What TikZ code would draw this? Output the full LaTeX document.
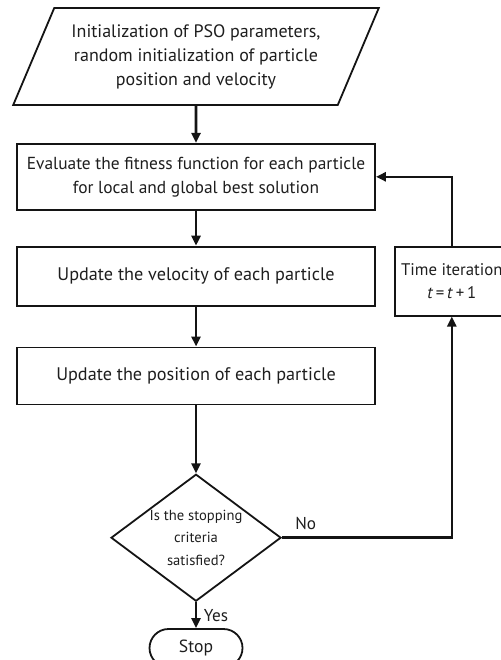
\documentclass[tikz,border=0pt]{standalone}
\usepackage{fontspec}
\setmainfont{PT Sans}
\usetikzlibrary{shapes.geometric, arrows.meta, positioning}
\definecolor{lineColor}{RGB}{20, 20, 20}
\definecolor{textColor}{RGB}{30, 30, 30}
\tikzset{
    node distance=17.5pt,
    font=\fontsize{8.8}{12}\selectfont,
    % --- basic block ---
    baseBlock/.style={
        draw=lineColor, line width=0.9pt, align=center, text=textColor
    },
    % --- block styles ---
    % input / output
    styleInput/.style={
        baseBlock, trapezium, trapezium left angle=64, trapezium right angle=116,
        trapezium stretches=true, minimum width=183pt, minimum height=48.5pt,
        font=\fontsize{9}{12}\selectfont
    },
    % process step
    styleProc/.style={
        baseBlock, rectangle, minimum width=179pt, minimum height=29pt,
        font=\fontsize{9.1}{12}\selectfont
    },
    % side step
    styleSide/.style={
        baseBlock, rectangle, minimum width=57pt, minimum height=34.5pt, inner sep=1pt,
        font=\fontsize{8.4}{11.5}\selectfont
    },
    % decision
    styleDecision/.style={
        baseBlock, diamond, aspect=1.34, inner sep=-3pt,
        minimum width=85pt, minimum height=63.5pt,
        font=\fontsize{7.3}{11.2}\selectfont
    },
    % terminator
    styleTerm/.style={
        baseBlock, rectangle, rounded corners=9.5pt,
        minimum width=46.5pt, minimum height=19pt
    },
    % --- connectors ---
    conn/.style={
        draw=lineColor, line width=1.3pt,
        -{Triangle[length=5pt, width=4.5pt]}
    },
    edgeLabel/.style={text=textColor, font=\fontsize{8.6}{11}\selectfont}
}

\begin{document}
\begin{tikzpicture}
	\useasboundingbox (0,0) rectangle (250.5pt,-330pt);

	% =========================================================
	% main column
	% =========================================================
	\node [styleInput] (init) at (98pt,-28.25pt) {Initialization of PSO parameters,\\random initialization of particle\\position and velocity};
	\node [styleProc, below=18.5pt of init, minimum height=33pt, font=\fontsize{8.7}{12}\selectfont] (eval) {Evaluate the fitness function for each particle\\for local and global best solution};
	\node [styleProc, below=17.5pt of eval, minimum height=29.5pt] (vel) {Update the velocity of each particle};
	\node [styleProc, below=20pt of vel, minimum height=28.5pt] (pos) {Update the position of each particle};
	\node [styleDecision, below=34pt of pos] (check) {Is the stopping\\criteria\\satisfied?};
	\node [styleTerm, below=13pt of check] (stop) {Stop};

	% =========================================================
	% loop back
	% =========================================================
	\node [styleSide, right=9pt of vel.north east, anchor=north west] (time) {Time iteration\\\textit{t}\,=\,\textit{t}\,+\,1};

	% =========================================================
	% connectors
	% =========================================================
	\draw [conn] (init) -- (eval);
	\draw [conn] (eval) -- (vel);
	\draw [conn] (vel) -- (pos);
	\draw [conn] (pos) -- (check);
	\draw [conn] (check) -- node[right, edgeLabel] {Yes} (stop);
	\draw [conn] (check.east) -| node[pos=0.07, above, edgeLabel] {No} (time.south);
	\draw [conn] (time.north) |- (eval.east);

\end{tikzpicture}
\end{document}
